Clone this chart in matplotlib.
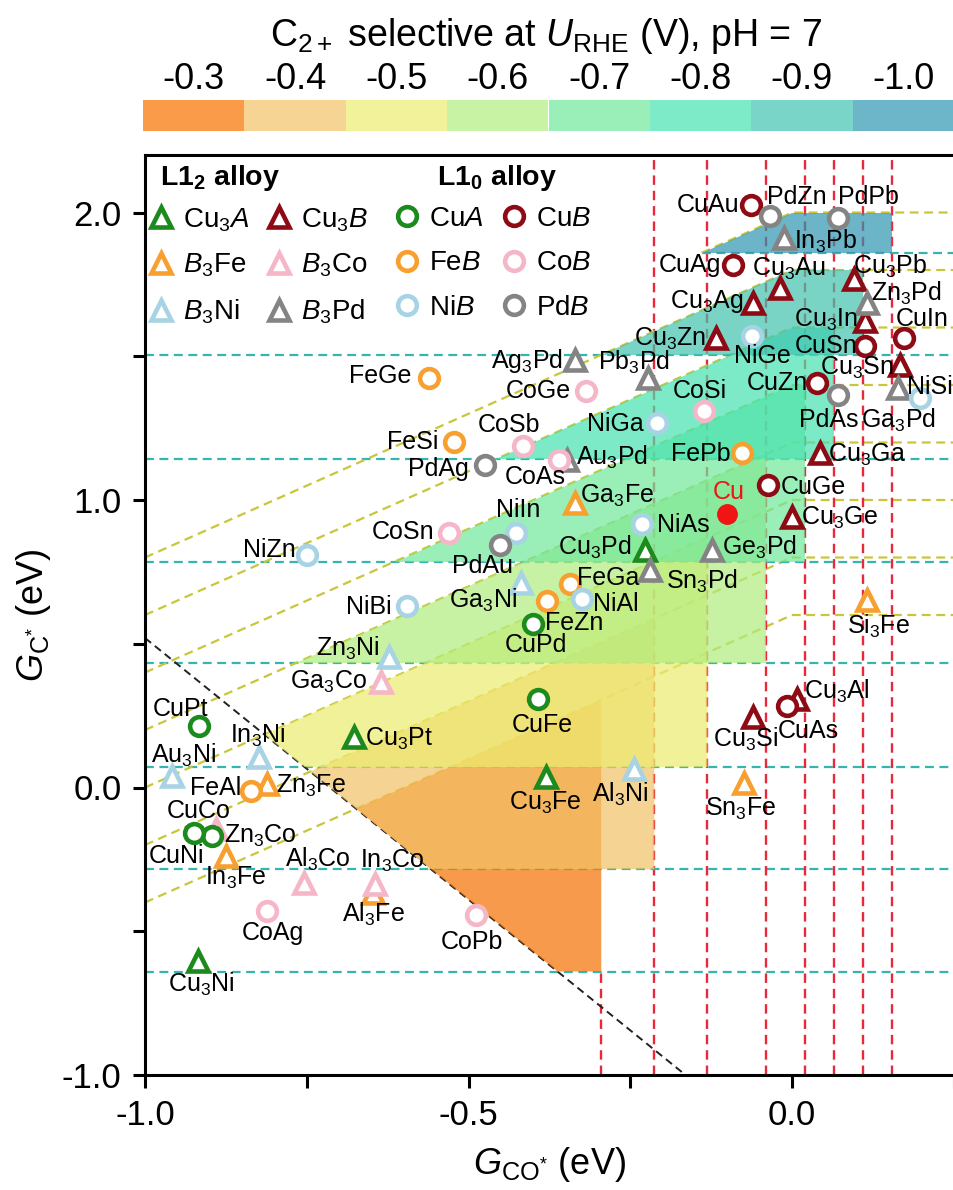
import re
import numpy as np
import matplotlib
matplotlib.use("Agg")
import matplotlib.pyplot as plt
from matplotlib.lines import Line2D
from matplotlib.patches import Polygon, Rectangle

plt.rcParams['font.family'] = ['Liberation Sans', 'DejaVu Sans']
plt.rcParams['mathtext.fontset'] = 'custom'
plt.rcParams['mathtext.rm'] = 'Liberation Sans'
plt.rcParams['mathtext.it'] = 'Liberation Sans:italic'
plt.rcParams['mathtext.bf'] = 'Liberation Sans:bold'
plt.rcParams['mathtext.default'] = 'regular'
plt.rcParams['axes.unicode_minus'] = False

# ---------------- data ----------------
potentials = [-0.3, -0.4, -0.5, -0.6, -0.7, -0.8, -0.9, -1.0]
potential_labels = ['-0.3', '-0.4', '-0.5', '-0.6', '-0.7', '-0.8', '-0.9', '-1.0']
region_colors = ['#F99B48', '#F6D594', '#F2F29A', '#C8F2A4',
                 '#9AEEB8', '#7DEBC8', '#79D5C7', '#6DB5C8']
gco_limit = [-0.295, -0.213, -0.131, -0.040, 0.020, 0.065, 0.110, 0.154]
gc_lower = [-0.640, -0.284, 0.071, 0.434, 0.786, 1.142, 1.504, 1.860]
gc_upper = [0.6, 0.8, 1.0, 1.2, 1.4, 1.6, 1.8, 2.0]
boundary_slope = -1.82
boundary_intercept = -1.30

cu3a_names = ['Cu3Pd', 'Cu3Pt', 'Cu3Fe', 'Cu3Ni']
cu3a_gco = [-0.227, -0.677, -0.380, -0.918]
cu3a_gc = [0.825, 0.174, 0.035, -0.605]

cu3b_names = ['Cu3Au', 'Cu3Pb', 'Cu3Ag', 'Cu3In', 'Cu3Zn', 'Cu3Sn', 'Cu3Ga', 'Cu3Ge', 'Cu3Si', 'Cu3Al']
cu3b_gco = [-0.019, 0.095, -0.060, 0.113, -0.117, 0.167, 0.043, 0.000, -0.060, 0.008]
cu3b_gc = [1.738, 1.767, 1.686, 1.622, 1.564, 1.471, 1.163, 0.942, 0.244, 0.308]

b3fe_names = ['Ga3Fe', 'Zn3Fe', 'In3Fe', 'Al3Fe', 'Sn3Fe', 'Si3Fe']
b3fe_gco = [-0.335, -0.811, -0.875, -0.647, -0.075, 0.115]
b3fe_gc = [0.988, 0.012, -0.239, -0.366, 0.017, 0.651]

b3co_names = ['Ga3Co', 'Zn3Co', 'Al3Co', 'In3Co']
b3co_gco = [-0.636, -0.890, -0.755, -0.644]
b3co_gc = [0.366, -0.145, -0.331, -0.337]

b3ni_names = ['Ga3Ni', 'Zn3Ni', 'In3Ni', 'Au3Ni', 'Al3Ni']
b3ni_gco = [-0.419, -0.623, -0.824, -0.958, -0.245]
b3ni_gc = [0.713, 0.453, 0.105, 0.040, 0.064]

b3pd_names = ['In3Pb', 'Zn3Pd', 'Pb3Pd', 'Ag3Pd', 'Ga3Pd', 'Au3Pd', 'Ge3Pd', 'Sn3Pd']
b3pd_gco = [-0.012, 0.115, -0.223, -0.335, 0.164, -0.348, -0.124, -0.219]
b3pd_gc = [1.910, 1.686, 1.424, 1.488, 1.389, 1.139, 0.825, 0.755]

cua_names = ['CuPd', 'CuFe', 'CuPt', 'CuCo', 'CuNi']
cua_gco = [-0.401, -0.392, -0.916, -0.896, -0.924]
cua_gc = [0.570, 0.308, 0.215, -0.169, -0.159]

cub_names = ['CuAu', 'CuAg', 'CuIn', 'CuSn', 'CuZn', 'CuGe', 'CuAs']
cub_gco = [-0.063, -0.092, 0.172, 0.113, 0.038, -0.037, -0.008]
cub_gc = [2.026, 1.819, 1.564, 1.535, 1.407, 1.052, 0.285]

feb_names = ['FeGe', 'FeSi', 'FePb', 'FeGa', 'FeZn', 'FeAl']
feb_gco = [-0.561, -0.523, -0.078, -0.343, -0.379, -0.836]
feb_gc = [1.424, 1.203, 1.163, 0.709, 0.647, -0.012]

cob_names = ['CoGe', 'CoSb', 'CoAs', 'CoSi', 'CoSn', 'CoAg', 'CoPb']
cob_gco = [-0.319, -0.416, -0.361, -0.137, -0.530, -0.811, -0.489]
cob_gc = [1.378, 1.189, 1.139, 1.308, 0.884, -0.430, -0.442]

nib_names = ['NiGe', 'NiSi', 'NiGa', 'NiIn', 'NiZn', 'NiBi', 'NiAs', 'NiAl']
nib_gco = [-0.062, 0.198, -0.209, -0.427, -0.749, -0.595, -0.232, -0.325]
nib_gc = [1.570, 1.354, 1.267, 0.884, 0.808, 0.633, 0.915, 0.657]

pdb_names = ['PdZn', 'PdPb', 'PdAs', 'PdAg', 'PdAu']
pdb_gco = [-0.035, 0.071, 0.0715, -0.475, -0.451]
pdb_gc = [1.988, 1.982, 1.366, 1.122, 0.845]

cu_gco = [-0.100]
cu_gc = [0.953]

# ---------------- styles ----------------
GREEN = '#1C8A1C'
DARKRED = '#8E0A14'
ORANGE = '#F7A030'
PINK = '#F5B7C7'
LBLUE = '#A8D3E5'
GREY = '#848484'
CURED = '#F01414'

# label offsets in pixels (dx right, dy down) relative to marker
label_off = {
    'CuAu': (-43, 0), 'PdZn': (27, -19), 'PdPb': (30, -21), 'In3Pb': (41, 3),
    'CuAg': (-43, 0), 'Cu3Au': (9, -19), 'Cu3Pb': (36, -13), 'Zn3Pd': (40, -9),
    'Cu3Ag': (-47, -1), 'Cu3In': (-39, -1), 'CuIn': (19, -19), 'Cu3Zn': (-46, 1),
    'NiGe': (10, 20), 'CuSn': (-39, 0), 'Cu3Sn': (-43, 3), 'Pb3Pd': (-14, -16),
    'Ag3Pd': (-48, 1), 'CuZn': (-39, 0), 'PdAs': (-10, 25), 'Ga3Pd': (0, 32),
    'NiSi': (10, -11), 'CoSi': (-4, -20), 'NiGa': (-42, 1), 'CoGe': (-47, 0),
    'Au3Pd': (45, -3), 'CoAs': (-23, 17), 'FePb': (-41, 1), 'Cu3Ga': (47, 2),
    'CuGe': (45, 2), 'Cu': (1, -22), 'Cu3Ge': (47, 1), 'Ga3Fe': (42, -8),
    'NiAs': (41, 1), 'Cu3Pd': (-51, -3), 'Ge3Pd': (48, -3), 'Sn3Pd': (52, 11),
    'FeGa': (38, -6), 'NiAl': (34, 5), 'FeZn': (27, 22), 'CuPd': (3, 21),
    'Ga3Ni': (-38, 18), 'Si3Fe': (12, 26), 'FeGe': (-49, -2), 'FeSi': (-41, 0),
    'CoSb': (-14, -21), 'PdAg': (-46, 4), 'NiZn': (-38, -5), 'CoSn': (-46, -1),
    'NiIn': (2, -23), 'PdAu': (-18, 21), 'NiBi': (-38, 1), 'Zn3Ni': (-41, -9),
    'Ga3Co': (-52, 0), 'CuPt': (-19, -17), 'Cu3Pt': (45, 1), 'In3Ni': (-1, -22),
    'Au3Ni': (11, -21), 'FeAl': (-36, -3), 'Zn3Fe': (44, 2), 'CuCo': (-14, -25),
    'CuNi': (-18, 23), 'Zn3Co': (44, 7), 'In3Fe': (10, 22), 'Al3Co': (14, -23),
    'In3Co': (17, -23), 'Al3Fe': (0, 22), 'CoAg': (6, 22), 'CoPb': (-4, 27),
    'Cu3Ni': (3, 23), 'CuFe': (4, 26), 'Cu3Fe': (-1, 25), 'Al3Ni': (-13, 25),
    'Cu3Si': (-8, 22), 'CuAs': (21, 25), 'Cu3Al': (39, -8), 'Sn3Fe': (-3, 26),
}


def chem(name):
    return re.sub(r'(\d)', r'$_{\1}$', name)


def clip(poly, a, b, c):
    """keep a*x + b*y + c >= 0"""
    out = []
    n = len(poly)
    for k in range(n):
        p, q = poly[k], poly[(k + 1) % n]
        fp = a * p[0] + b * p[1] + c
        fq = a * q[0] + b * q[1] + c
        if fp >= 0:
            out.append(p)
        if (fp >= 0) != (fq >= 0):
            t = fp / (fp - fq)
            out.append((p[0] + t * (q[0] - p[0]), p[1] + t * (q[1] - p[1])))
    return out


W, H = 954, 1190
fig = plt.figure(figsize=(W / 100, H / 100), dpi=100)
ax = fig.add_axes([145 / W, 1 - 1075 / H, (954 - 145) / W, (1075 - 155) / H])
XMIN, XMAX, YMIN, YMAX = -1.0, 0.25, -1.0, 2.2
ax.set_xlim(XMIN, XMAX)
ax.set_ylim(YMIN, YMAX)

ALPHA = 0.7
DASH = (4, 2.5)
# guide lines
for i, (xr, yb, c) in enumerate(zip(gco_limit, gc_lower, gc_upper)):
    ytop = YMAX if i > 0 else yb
    ax.plot([xr, xr], [YMIN, ytop], color='#E62A3A', lw=1.7, dashes=DASH, zorder=1)
    xs = XMIN if i < 7 else yb - c
    ax.plot([xs, XMAX], [yb, yb], color='#36B4AE', lw=1.6, dashes=DASH, zorder=1)
    xx = np.array([xs, 0.0, XMAX])
    yy = np.minimum(xx + c, c)
    ax.plot(xx, yy, color='#C9C63A', lw=1.6, dashes=DASH, zorder=1)

xb = np.array([XMIN, (YMIN - boundary_intercept) / boundary_slope])
ax.plot(xb, boundary_slope * xb + boundary_intercept, color='#222222', lw=1.4,
        dashes=DASH, zorder=1.5)

# selectivity regions
for i, (xr, yb, c) in enumerate(zip(gco_limit, gc_lower, gc_upper)):
    poly = [(XMIN, yb), (xr, yb), (xr, c), (XMIN, c)]
    poly = clip(poly, 1.0, -1.0, c)
    poly = clip(poly, -boundary_slope, 1.0, -boundary_intercept)
    rgb = np.array(matplotlib.colors.to_rgb(region_colors[i]))
    base = np.clip((rgb - (1 - ALPHA)) / ALPHA, 0, 1)
    ax.add_patch(Polygon(poly, closed=True, facecolor=base, edgecolor='none',
                         alpha=ALPHA, zorder=2))

families = [
    ('^', GREEN, cu3a_names, cu3a_gco, cu3a_gc),
    ('^', DARKRED, cu3b_names, cu3b_gco, cu3b_gc),
    ('^', ORANGE, b3fe_names, b3fe_gco, b3fe_gc),
    ('^', PINK, b3co_names, b3co_gco, b3co_gc),
    ('^', LBLUE, b3ni_names, b3ni_gco, b3ni_gc),
    ('^', GREY, b3pd_names, b3pd_gco, b3pd_gc),
    ('o', GREEN, cua_names, cua_gco, cua_gc),
    ('o', DARKRED, cub_names, cub_gco, cub_gc),
    ('o', ORANGE, feb_names, feb_gco, feb_gc),
    ('o', PINK, cob_names, cob_gco, cob_gc),
    ('o', LBLUE, nib_names, nib_gco, nib_gc),
    ('o', GREY, pdb_names, pdb_gco, pdb_gc),
]

MS_TRI, MS_CIR, MEW = 14, 13.5, 3.3
LABEL_FS = 18
for mk, col, names, xs, ys in families:
    ms = MS_TRI if mk == '^' else MS_CIR
    ax.plot(xs, ys, ls='none', marker=mk, ms=ms, mfc='white', mec=col, mew=MEW, zorder=4)
    for n, x, y in zip(names, xs, ys):
        dx, dy = label_off[n]
        ax.annotate(chem(n), (x, y), xytext=(dx, -dy), textcoords='offset pixels',
                    ha='center', va='center', fontsize=LABEL_FS, zorder=5)

ax.plot(cu_gco, cu_gc, ls='none', marker='o', ms=14, mfc=CURED, mec=CURED, zorder=4)
dx, dy = label_off['Cu']
ax.annotate('Cu', (cu_gco[0], cu_gc[0]), xytext=(dx, -dy), textcoords='offset pixels',
            ha='center', va='center', fontsize=LABEL_FS, color=CURED, zorder=5)

# axes styling
for s in ['left', 'bottom', 'top']:
    ax.spines[s].set_linewidth(2.2)
ax.spines['right'].set_visible(False)
ax.set_xticks([-1.0, -0.75, -0.5, -0.25, 0.0, 0.25])
ax.set_xticklabels(['-1.0', '', '-0.5', '', '0.0', ''])
ax.set_yticks([-1.0, -0.5, 0.0, 0.5, 1.0, 1.5, 2.0])
ax.set_yticklabels(['-1.0', '', '0.0', '', '1.0', '', '2.0'])
ax.tick_params(direction='out', length=9, width=2.2, labelsize=25, pad=8)
ax.set_xlabel(r'$\mathit{G}_{\mathrm{CO^{*}}}$ (eV)', fontsize=26, labelpad=10)
ax.set_ylabel(r'$\mathit{G}_{\mathrm{C^{*}}}$ (eV)', fontsize=26, labelpad=6)


# legends
def h(mk, col):
    return Line2D([], [], ls='none', marker=mk, ms=MS_CIR if mk == 'o' else MS_TRI,
                  mfc='white', mec=col, mew=MEW)


LEG_FS = 20
leg_kw = dict(frameon=False, fontsize=LEG_FS, ncol=2, handletextpad=0.3,
              labelspacing=0.66, borderpad=0, borderaxespad=0, handlelength=1.0)
leg1 = ax.legend([h('^', GREEN), h('^', ORANGE), h('^', LBLUE),
                  h('^', DARKRED), h('^', PINK), h('^', GREY)],
                 [r'Cu$_3\mathit{A}$', r'$\mathit{B}_3$Fe', r'$\mathit{B}_3$Ni',
                  r'Cu$_3\mathit{B}$', r'$\mathit{B}_3$Co', r'$\mathit{B}_3$Pd'],
                 loc='upper left', bbox_to_anchor=(147 / W, 1 - 206 / H),
                 bbox_transform=fig.transFigure, columnspacing=0.55, **leg_kw)
ax.add_artist(leg1)
leg2 = ax.legend([h('o', GREEN), h('o', ORANGE), h('o', LBLUE),
                  h('o', DARKRED), h('o', PINK), h('o', GREY)],
                 [r'Cu$\mathit{A}$', r'Fe$\mathit{B}$', r'Ni$\mathit{B}$',
                  r'Cu$\mathit{B}$', r'Co$\mathit{B}$', r'Pd$\mathit{B}$'],
                 loc='upper left', bbox_to_anchor=(393 / W, 1 - 206 / H),
                 bbox_transform=fig.transFigure, columnspacing=0.6, **leg_kw)
fig.text(160 / W, 1 - 178 / H, r'L1$_{\mathbf{2}}$ alloy', fontsize=20.5,
         fontweight='bold', va='center', ha='left')
fig.text(437 / W, 1 - 178 / H, r'L1$_{\mathbf{0}}$ alloy', fontsize=20.5,
         fontweight='bold', va='center', ha='left')

# colour bar
cax = fig.add_axes([143 / W, 1 - 131 / H, (954 - 143) / W, 31 / H])
cax.set_xlim(0, len(potentials))
cax.set_ylim(0, 1)
for i, col in enumerate(region_colors):
    cax.add_patch(Rectangle((i, 0), 1, 1, facecolor=col, edgecolor='none'))
    cax.text(i + 0.5, 1.65, potential_labels[i], ha='center', va='center', fontsize=26)
cax.axis('off')
fig.text(546 / W, 1 - 36 / H, r'C$_{2+}$ selective at $\mathit{U}_{\mathrm{RHE}}$ (V), pH = 7',
         ha='center', va='center', fontsize=27)

fig.savefig('out.png', dpi=100)
